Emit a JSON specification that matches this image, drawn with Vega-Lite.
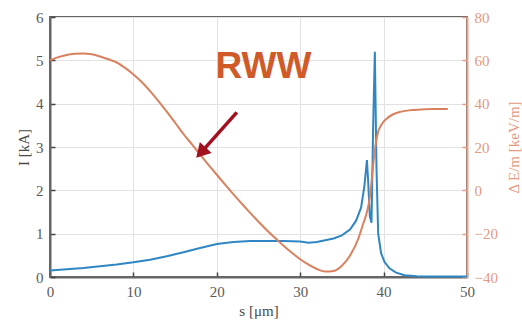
{
  "$schema": "https://vega.github.io/schema/vega-lite/v6.json",
  "width": 417,
  "height": 260,
  "autosize": "none",
  "padding": {"left": 50, "top": 17, "right": 55, "bottom": 51},
  "background": "white",
  "config": {
    "view": {"stroke": "#666666", "strokeWidth": 2},
    "axis": {
      "labelFont": "Liberation Serif",
      "titleFont": "Liberation Serif",
      "labelFontSize": 15,
      "titleFontSize": 15,
      "titleFontWeight": "normal",
      "labelColor": "#5a5a5a",
      "titleColor": "#4a4a4a",
      "gridColor": "#e2e2e2",
      "gridWidth": 1,
      "domainColor": "#666666",
      "domainWidth": 2,
      "tickColor": "#444444",
      "tickSize": -5,
      "tickWidth": 1.5
    }
  },
  "datasets": {
    "current": [
      {"s": 0, "I": 0.15}, {"s": 2, "I": 0.18}, {"s": 4, "I": 0.21}, {"s": 6, "I": 0.25},
      {"s": 8, "I": 0.29}, {"s": 10, "I": 0.34}, {"s": 12, "I": 0.4}, {"s": 14, "I": 0.48},
      {"s": 16, "I": 0.57}, {"s": 18, "I": 0.67}, {"s": 20, "I": 0.76}, {"s": 22, "I": 0.81},
      {"s": 24, "I": 0.83}, {"s": 26, "I": 0.83}, {"s": 28, "I": 0.83}, {"s": 30, "I": 0.82},
      {"s": 31, "I": 0.79}, {"s": 32, "I": 0.81}, {"s": 33, "I": 0.85}, {"s": 34, "I": 0.89},
      {"s": 35, "I": 0.96}, {"s": 36, "I": 1.1}, {"s": 36.7, "I": 1.3}, {"s": 37.3, "I": 1.6},
      {"s": 37.7, "I": 2.1}, {"s": 38.0, "I": 2.7}, {"s": 38.15, "I": 2.2}, {"s": 38.35, "I": 1.4},
      {"s": 38.55, "I": 1.25}, {"s": 38.75, "I": 3.5}, {"s": 38.95, "I": 5.2}, {"s": 39.15, "I": 2.5},
      {"s": 39.35, "I": 1.0}, {"s": 39.7, "I": 0.55}, {"s": 40.1, "I": 0.35}, {"s": 40.7, "I": 0.2},
      {"s": 41.5, "I": 0.1}, {"s": 42.5, "I": 0.04}, {"s": 44, "I": 0.02}, {"s": 46, "I": 0.01},
      {"s": 50, "I": 0.01}
    ],
    "wake": [
      {"s": 0, "E": 60}, {"s": 1, "E": 61.5}, {"s": 2, "E": 62.5}, {"s": 3, "E": 63},
      {"s": 4, "E": 63.2}, {"s": 5, "E": 62.8}, {"s": 6, "E": 61.8}, {"s": 7, "E": 60.5},
      {"s": 8, "E": 59}, {"s": 9, "E": 56.5}, {"s": 10, "E": 53.5}, {"s": 11, "E": 50},
      {"s": 12, "E": 45.8}, {"s": 13, "E": 41.2}, {"s": 14, "E": 36.3}, {"s": 15, "E": 31.2},
      {"s": 16, "E": 26}, {"s": 17, "E": 21.3}, {"s": 18, "E": 16.5}, {"s": 19, "E": 11.8},
      {"s": 20, "E": 7.2}, {"s": 21, "E": 2.6}, {"s": 22, "E": -1.9}, {"s": 23, "E": -6.2},
      {"s": 24, "E": -10.4}, {"s": 25, "E": -14.5}, {"s": 26, "E": -18.4}, {"s": 27, "E": -22},
      {"s": 28, "E": -25.6}, {"s": 29, "E": -28.8}, {"s": 30, "E": -31.8}, {"s": 31, "E": -34.3},
      {"s": 32, "E": -36.3}, {"s": 33, "E": -37.5}, {"s": 34, "E": -37.2}, {"s": 35, "E": -34.8},
      {"s": 36, "E": -30}, {"s": 37, "E": -22}, {"s": 37.5, "E": -16}, {"s": 38.0, "E": -10},
      {"s": 38.4, "E": -2}, {"s": 38.7, "E": 10}, {"s": 39.0, "E": 20}, {"s": 39.3, "E": 26.5},
      {"s": 39.7, "E": 30}, {"s": 40.4, "E": 33.2}, {"s": 41.1, "E": 35}, {"s": 42, "E": 36.2},
      {"s": 43, "E": 36.9}, {"s": 44.5, "E": 37.3}, {"s": 46, "E": 37.5}, {"s": 47.7, "E": 37.5}
    ],
    "arrow": [
      {"s": 22.4, "I": 3.8, "s2": 18.1, "I2": 2.87}
    ],
    "label": [
      {"s": 25.6, "I": 4.85, "text": "RWW"}
    ]
  },
  "layer": [
    {
      "data": {"name": "current"},
      "mark": {"type": "line", "color": "#2f86c3", "strokeWidth": 2, "interpolate": "linear"},
      "encoding": {
        "x": {
          "field": "s", "type": "quantitative",
          "scale": {"domain": [0, 50], "nice": false},
          "axis": {"values": [0, 10, 20, 30, 40, 50], "title": "s [μm]", "labelPadding": 12, "titlePadding": 4, "labelFlush": false}
        },
        "y": {
          "field": "I", "type": "quantitative",
          "scale": {"domain": [0, 6], "nice": false},
          "axis": {"orient": "left", "values": [0, 1, 2, 3, 4, 5, 6], "title": "I [kA]", "labelPadding": 12, "titlePadding": 4}
        }
      }
    },
    {
      "data": {"name": "wake"},
      "mark": {"type": "line", "color": "#d9805f", "strokeWidth": 2, "interpolate": "monotone"},
      "encoding": {
        "x": {"field": "s", "type": "quantitative", "scale": {"domain": [0, 50], "nice": false}},
        "y": {
          "field": "E", "type": "quantitative",
          "scale": {"domain": [-40, 80], "nice": false},
          "axis": {
            "orient": "right", "values": [-40, -20, 0, 20, 40, 60, 80], "grid": false,
            "title": "Δ E/m [keV/m]", "titleAngle": 270, "titleColor": "#e39a80",
            "labelColor": "#e39a80", "domainColor": "#e8a48c", "tickColor": "#e39a80",
            "labelPadding": 12, "titlePadding": 24
          }
        }
      }
    },
    {
      "data": {"name": "arrow"},
      "mark": {"type": "rule", "color": "#a3101f", "strokeWidth": 3.5},
      "encoding": {
        "x": {"field": "s", "type": "quantitative", "scale": {"domain": [0, 50], "nice": false}},
        "x2": {"field": "s2"},
        "y": {"field": "I", "type": "quantitative", "scale": {"domain": [0, 6], "nice": false}, "axis": null},
        "y2": {"field": "I2"}
      }
    },
    {
      "data": {"name": "arrow"},
      "mark": {"type": "point", "shape": "triangle-up", "filled": true, "color": "#a3101f", "opacity": 1, "size": 260, "angle": 223},
      "encoding": {
        "x": {"field": "s2", "type": "quantitative", "scale": {"domain": [0, 50], "nice": false}},
        "y": {"field": "I2", "type": "quantitative", "scale": {"domain": [0, 6], "nice": false}, "axis": null}
      }
    },
    {
      "data": {"name": "label"},
      "mark": {"type": "text", "font": "Liberation Sans", "fontWeight": "bold", "fontSize": 37, "color": "#d05a28", "baseline": "middle", "align": "center"},
      "encoding": {
        "x": {"field": "s", "type": "quantitative", "scale": {"domain": [0, 50], "nice": false}},
        "y": {"field": "I", "type": "quantitative", "scale": {"domain": [0, 6], "nice": false}, "axis": null},
        "text": {"field": "text"}
      }
    }
  ],
  "resolve": {"scale": {"y": "independent"}}
}
